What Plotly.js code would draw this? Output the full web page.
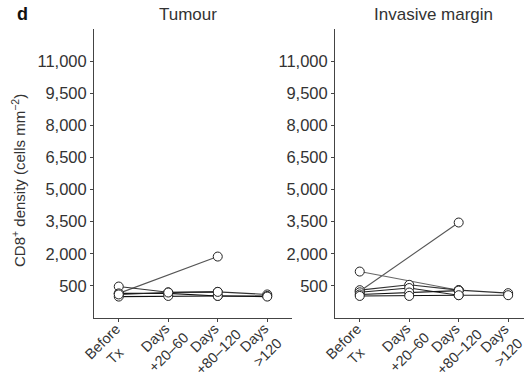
<!DOCTYPE html>
<html>
<head>
<meta charset="utf-8">
<script src="https://cdn.plot.ly/plotly-3.0.1.min.js"></script>
<style>html,body{margin:0;padding:0;background:#fff;}#chart{width:524px;height:372px;}</style>
</head>
<body>
<div id="chart"></div>
<script>
// Timepoint categories (two-line tick labels)
const categories = ["Before<br>Tx", "Days<br>+20–60", "Days<br>+80–120", "Days<br>>120"];
const yTicks = [500, 2000, 3500, 5000, 6500, 8000, 9500, 11000];

// Tumour panel: one array per patient (null = not sampled)
const tumourA = [150, null, 1870, null];
const tumourB = [470, 200, 220, 100];
const tumourC = [150, 150, 30, 30];
const tumourD = [0, 30, 30, 0];
const tumourE = [100, 190, 220, null];

// Invasive margin panel
const marginA = [250, null, 3460, null];
const marginB = [1170, null, 300, null];
const marginC = [300, 550, 300, 160];
const marginD = [200, 400, 65, 65];
const marginE = [100, 190, 280, null];
const marginF = [30, 30, 65, null];

const tumourSeries = [[tumourA, "#555"], [tumourB, "#333"], [tumourC, "#111"], [tumourD, "#111"], [tumourE, "#222"]];
const marginSeries = [[marginA, "#555"], [marginB, "#666"], [marginC, "#333"], [marginD, "#222"], [marginE, "#111"], [marginF, "#111"]];

const W = 524, H = 372, MT = 29, MB = 54;
const plotH = H - MT - MB;
const FAMILY = "Liberation Sans, Arial, Helvetica, sans-serif";

function mk(vals, color, xa, ya) {
  return {
    x: categories, y: vals, xaxis: xa, yaxis: ya,
    type: "scatter", mode: "lines+markers", connectgaps: true,
    line: {color: color, width: 1.1},
    marker: {symbol: "circle", size: 9, color: "#fff", line: {color: "#222", width: 1}},
    showlegend: false, hoverinfo: "skip"
  };
}
const traces = [];
tumourSeries.forEach(s => traces.push(mk(s[0], s[1], "x", "y")));
marginSeries.forEach(s => traces.push(mk(s[0], s[1], "x2", "y2")));

const yCommon = {
  range: [-1000, 12500], tickmode: "array", tickvals: yTicks, tickformat: ",d",
  showline: true, linecolor: "#444", linewidth: 1, ticks: "outside", ticklen: 3, tickcolor: "#444",
  showgrid: false, zeroline: false, tickfont: {size: 16.5, color: "#333", family: FAMILY}, automargin: false
};
const xCommon = {
  type: "category", showline: true, linecolor: "#444", linewidth: 1, ticks: "outside", ticklen: 3,
  tickcolor: "#444", showgrid: false, zeroline: false, showticklabels: false, automargin: false
};

// Rotated two-line category labels, positioned relative to each category tick
const LBL_SIZE = 14.5;
const ctx = document.createElement("canvas").getContext("2d");
ctx.font = LBL_SIZE + "px 'Liberation Sans'";
const c45 = Math.SQRT1_2;
const annotations = [];
["x", "x2"].forEach(xr => {
  categories.forEach(cat => {
    const lines = cat.split("<br>");
    const L1 = ctx.measureText(lines[0]).width;
    // end of first line (relative to tick, px, y downward from axis)
    const ex = -1.5, ey = 8.5;
    const c1x = ex - c45 * L1 / 2, c1y = ey + c45 * L1 / 2;
    const s = 19.5;
    const centers = [[c1x, c1y], [c1x + c45 * s, c1y + c45 * s]];
    lines.forEach((ln, j) => {
      annotations.push({
        text: ln.replace(/>/g, "&gt;"), x: cat, xref: xr, y: 0, yref: "paper",
        xshift: centers[j][0], yshift: -centers[j][1], showarrow: false, textangle: -45,
        xanchor: "center", yanchor: "middle", borderpad: 0,
        font: {size: LBL_SIZE, color: "#333", family: FAMILY}
      });
    });
  });
});

annotations.push(
  {text: "<b>d</b>", x: 22/W, y: 1 + 15/plotH, xref: "paper", yref: "paper", showarrow: false,
    font: {size: 18, color: "#111", family: FAMILY}, xanchor: "center", yanchor: "middle"},
  {text: "Tumour", x: 188/W, y: 1 + 15/plotH, xref: "paper", yref: "paper", showarrow: false,
    font: {size: 17, color: "#333", family: FAMILY}, xanchor: "center", yanchor: "middle"},
  {text: "Invasive margin", x: 433/W, y: 1 + 15/plotH, xref: "paper", yref: "paper", showarrow: false,
    font: {size: 17, color: "#333", family: FAMILY}, xanchor: "center", yanchor: "middle"},
  {text: "CD8<sup>+</sup> density (cells mm<sup>−2</sup>)", x: 18/W, y: (H - MB - 181)/plotH,
    xref: "paper", yref: "paper", showarrow: false, textangle: -90,
    font: {size: 15, color: "#333", family: FAMILY}, xanchor: "center", yanchor: "middle"}
);

const layout = {
  width: W, height: H,
  margin: {l: 0, r: 0, t: MT, b: MB},
  paper_bgcolor: "#fff", plot_bgcolor: "#fff",
  font: {family: FAMILY, color: "#333"},
  xaxis: Object.assign({}, xCommon, {domain: [94/W, 292/W], range: [-0.5, 3.5], anchor: "y"}),
  xaxis2: Object.assign({}, xCommon, {domain: [335/W, 1], range: [-0.5, 3.32], anchor: "y2"}),
  yaxis: Object.assign({}, yCommon, {domain: [0, 1], anchor: "x"}),
  yaxis2: Object.assign({}, yCommon, {domain: [0, 1], anchor: "x2"}),
  annotations: annotations
};

Plotly.newPlot("chart", traces, layout, {staticPlot: true, displayModeBar: false});
</script>
</body>
</html>
